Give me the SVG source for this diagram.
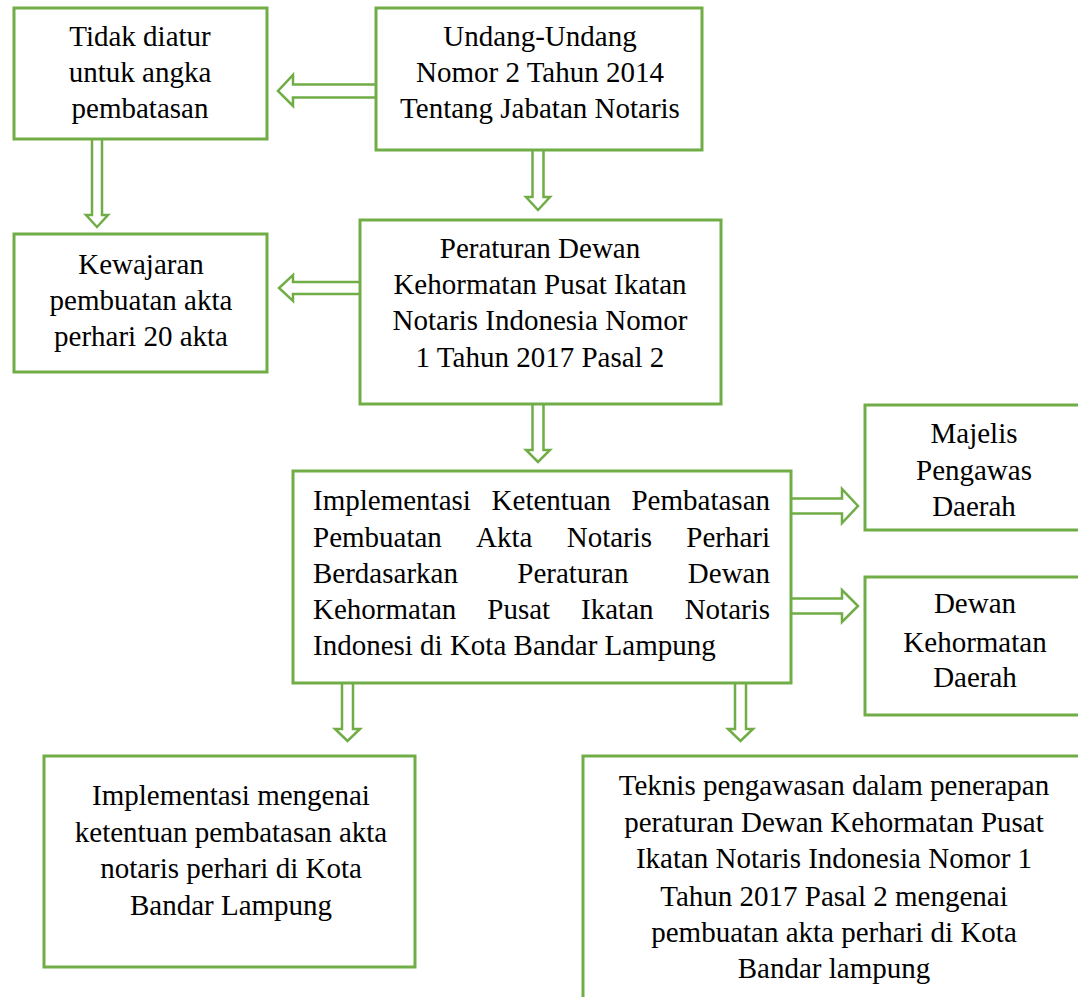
<svg xmlns="http://www.w3.org/2000/svg" width="1078" height="997" viewBox="0 0 1078 997">
<style>
.box{fill:#fff;stroke:#70AD47;stroke-width:3}
.arr{fill:#fff;stroke:#70AD47;stroke-width:2.5;stroke-linejoin:miter}
.t{font-family:'Liberation Serif','Times New Roman',serif;font-size:29px;fill:#000}
.c{text-anchor:middle}
.e{text-anchor:end}
</style>
<rect width="1078" height="997" fill="#fff"/>
<g id="connectors">
<path class="arr" d="M376,84.5 H293 V75 L278,91 L293,106 V97.5 H376"/>
<path class="arr" d="M92,139 V215 H86 L97,227 L108,215 H102 V139"/>
<path class="arr" d="M532.5,151 V197 H526 L538,210 L550,197 H543.5 V151"/>
<path class="arr" d="M360,282 H293 V275 L279,288 L293,301 V294 H360"/>
<path class="arr" d="M532.5,404 V450 H526 L538,462 L550,450 H543.5 V404"/>
<path class="arr" d="M791,498.5 H842 V489 L858,506 L842,523 V513.5 H791"/>
<path class="arr" d="M791,598.5 H842 V590 L858,606 L842,622 V613.5 H791"/>
<path class="arr" d="M342,683 V729 H335 L347.5,741 L360,729 H353 V683"/>
<path class="arr" d="M735,683 V729 H728 L740.5,741 L753,729 H746 V683"/>
</g>
<g class="t">
<g id="node-tidak">
<rect class="box" x="14" y="8" width="253" height="131"/>
<text class="c" x="140" y="46">Tidak diatur</text>
<text class="c" x="140" y="82">untuk angka</text>
<text class="c" x="140" y="118">pembatasan</text>
</g>
<g id="node-uu">
<rect class="box" x="376" y="8" width="326" height="142"/>
<text class="c" x="540" y="46">Undang-Undang</text>
<text class="c" x="540" y="82">Nomor 2 Tahun 2014</text>
<text class="c" x="540" y="118">Tentang Jabatan Notaris</text>
</g>
<g id="node-kewajaran">
<rect class="box" x="14" y="234" width="253" height="138"/>
<text class="c" x="141" y="274">Kewajaran</text>
<text class="c" x="141" y="310">pembuatan akta</text>
<text class="c" x="141" y="346">perhari 20 akta</text>
</g>
<g id="node-peraturan">
<rect class="box" x="360" y="220" width="361" height="184"/>
<text class="c" x="540" y="258">Peraturan Dewan</text>
<text class="c" x="540" y="294">Kehormatan Pusat Ikatan</text>
<text class="c" x="540" y="330">Notaris Indonesia Nomor</text>
<text class="c" x="540" y="367">1 Tahun 2017 Pasal 2</text>
</g>
<g id="node-implementasi">
<rect class="box" x="293" y="471" width="498" height="212"/>
<text x="313" y="510">Implementasi</text>
<text x="491.6" y="510">Ketentuan</text>
<text class="e" x="770" y="510">Pembatasan</text>
<text x="313" y="547">Pembuatan</text>
<text x="476.1" y="547">Akta</text>
<text x="566.7" y="547">Notaris</text>
<text class="e" x="770" y="547">Perhari</text>
<text x="313" y="583">Berdasarkan</text>
<text x="517.3" y="583">Peraturan</text>
<text class="e" x="770" y="583">Dewan</text>
<text x="313" y="619">Kehormatan</text>
<text x="487.3" y="619">Pusat</text>
<text x="581.1" y="619">Ikatan</text>
<text class="e" x="770" y="619">Notaris</text>
<text x="313" y="655">Indonesi di Kota Bandar Lampung</text>
</g>
<g id="node-majelis">
<rect class="box" x="865" y="405" width="240" height="125"/>
<text class="c" x="974" y="443">Majelis</text>
<text class="c" x="974" y="480">Pengawas</text>
<text class="c" x="974" y="516">Daerah</text>
</g>
<g id="node-dewan">
<rect class="box" x="865" y="577" width="240" height="138"/>
<text class="c" x="975" y="613">Dewan</text>
<text class="c" x="975" y="652">Kehormatan</text>
<text class="c" x="975" y="687">Daerah</text>
</g>
<g id="node-implementasi-mengenai">
<rect class="box" x="44" y="756" width="371" height="211"/>
<text class="c" x="231" y="805">Implementasi mengenai</text>
<text class="c" x="231" y="842">ketentuan pembatasan akta</text>
<text class="c" x="231" y="878">notaris perhari di Kota</text>
<text class="c" x="231" y="915">Bandar Lampung</text>
</g>
<g id="node-teknis">
<rect class="box" x="583" y="756" width="540" height="280"/>
<text class="c" x="834" y="795">Teknis pengawasan dalam penerapan</text>
<text class="c" x="834" y="832">peraturan Dewan Kehormatan Pusat</text>
<text class="c" x="834" y="868">Ikatan Notaris Indonesia Nomor 1</text>
<text class="c" x="834" y="906">Tahun 2017 Pasal 2 mengenai</text>
<text class="c" x="834" y="942">pembuatan akta perhari di Kota</text>
<text class="c" x="834" y="978">Bandar lampung</text>
</g>
</g>
</svg>
